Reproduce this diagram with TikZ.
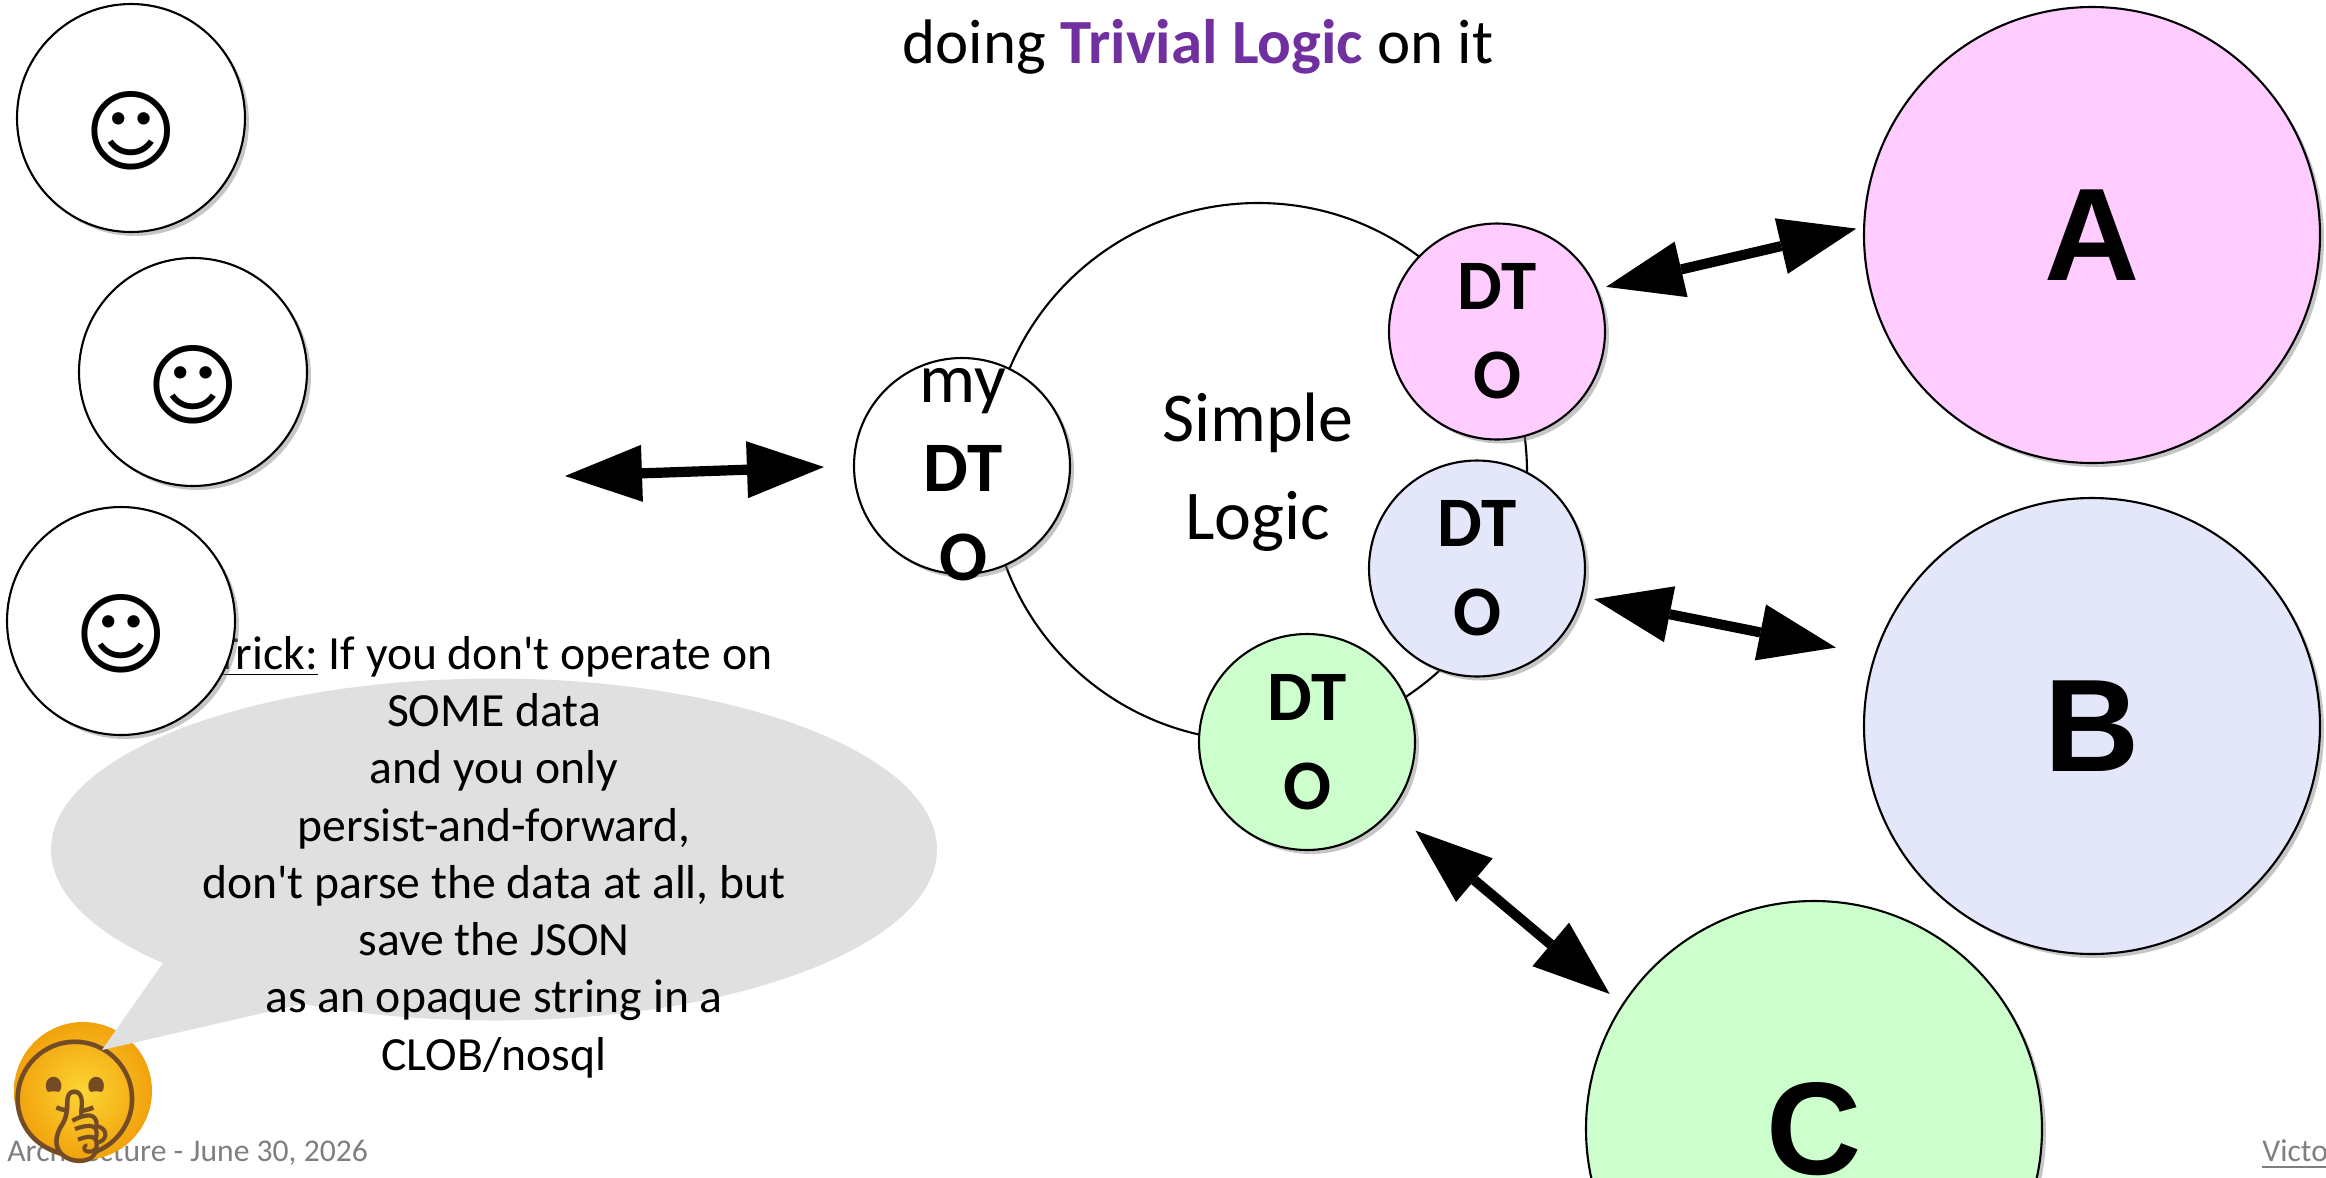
\documentclass[tikz,border=0pt]{standalone}
\usepackage{fontspec}
\setmainfont{Carlito}
\newfontfamily\arialfont{Liberation Sans}
\newfontfamily\symbolfont{DejaVu Sans}
\newfontfamily\emojifont{Noto Emoji}
\usepackage{xcolor}
\usetikzlibrary{arrows.meta,shadows}

\definecolor{pinkdto}{HTML}{FFCCFF}
\definecolor{bluedto}{HTML}{E4E6FA}
\definecolor{greendto}{HTML}{CCFFCC}
\definecolor{trivial}{HTML}{7030A0}
\definecolor{bubblegrey}{HTML}{E0E0E0}
\definecolor{footgrey}{HTML}{7F7F7F}
\definecolor{shushyellow}{HTML}{FCD535}
\definecolor{shushorange}{HTML}{F2A20C}

\newcommand{\smiley}{\raisebox{-0.13cm}[\height][\depth]{☺}}

\begin{document}
\begin{tikzpicture}[
        roundbox/.style={circle, draw, line width=0.6pt, fill=white, inner sep=0pt,
            drop shadow={shadow xshift=0.04cm, shadow yshift=-0.04cm, opacity=0.45}},
        userface/.style={roundbox, minimum size=2.28cm, font=\symbolfont\bfseries\fontsize{25.5}{25.5}\selectfont},
        dtolabel/.style={align=center, inner sep=0pt, font=\bfseries\fontsize{20.2}{25.3}\selectfont},
        dto/.style={roundbox, dtolabel, minimum size=2.16cm},
        sysbox/.style={roundbox, minimum size=4.56cm, font=\arialfont\bfseries\fontsize{37.5}{37.5}\selectfont},
        dblarrow/.style={line width=2.9pt,
            {Triangle[length=0.77cm,width=0.57cm,line width=0pt]}-{Triangle[length=0.77cm,width=0.57cm,line width=0pt]}}
    ]

        \useasboundingbox (0,0) rectangle (23.26,-11.77);

        \node[anchor=base west, inner sep=0, text=footgrey, font=\fontsize{9}{9}\selectfont] (footer) at (0.067,-11.617) {Architecture - June 30, 2026};
        \node[anchor=base west, inner sep=0, text=footgrey, font=\fontsize{9}{9}\selectfont] (author) at (22.617,-11.617) {\underline{Victo}};

        \shade[inner color=shushyellow, outer color=shushorange] (0.83,-10.91) circle [radius=0.69];
        \node[inner sep=0, text=brown!60!black, font=\emojifont\fontsize{34}{34}\selectfont] (shush) at (0.75,-11.015) {🤫};

        \fill[bubblegrey] (1.02,-10.50) -- (1.84,-9.33) -- (3.11,-10.02) -- cycle;
        \fill[bubblegrey] (4.94,-8.495) ellipse [x radius=4.43, y radius=1.71];

        \node[align=center, inner sep=0, font=\fontsize{13.55}{16.3}\selectfont] (trick) at (4.94,-8.57)
            {\underline{Trick:} If you don\textquotesingle t operate on\\SOME data\\and you only\\persist-and-forward,\\don\textquotesingle t parse the data at all, but\\save the JSON\\as an opaque string in a\\CLOB/nosql};

        \node[userface] (user1) at (1.31,-1.18) {\smiley};
        \node[userface] (user2) at (1.93,-3.72) {\smiley};
        \node[userface] (user3) at (1.21,-6.21) {\smiley};

        \node[anchor=base, inner sep=0, font=\fontsize{17.9}{17.9}\selectfont] (title) at (11.98,-0.63)
            {doing \textcolor{trivial}{\bfseries Trivial Logic} on it};

        \node[circle, draw, line width=0.6pt, fill=white, minimum size=5.38cm, inner sep=0, align=center,
            font=\fontsize{19.9}{27.9}\selectfont] (logic) at (12.58,-4.72) {Simple\\Logic};

        \node[dto] (mydto) at (9.62,-4.66) {};
        \node[dtolabel] (mylabel) at (9.63,-4.75) {{\mdseries\fontsize{20}{25.3}\selectfont my}\\DT\\O};
        \node[dto, fill=pinkdto] (dtoa) at (14.97,-3.315) {DT\\O};
        \node[dto, fill=bluedto] (dtob) at (14.77,-5.685) {DT\\O};
        \node[dto, fill=greendto] (dtoc) at (13.07,-7.42) {DT\\O};

        \node[sysbox, fill=pinkdto] (sysa) at (20.92,-2.35) {A};
        \node[sysbox, fill=bluedto] (sysb) at (20.92,-7.26) {B};
        \node[sysbox, fill=greendto] (sysc) at (18.14,-11.29) {C};

        \coordinate (crowd) at (5.65,-4.76);
        \draw[dblarrow, shorten >=0.29cm] (crowd) -- (mydto.west);
        \draw[dblarrow, shorten <=0.09cm, shorten >=0.07cm] (dtoa.23) -- (sysa.178);
        \draw[dblarrow, shorten <=0.12cm, shorten >=0.39cm] (dtob.-15) -- (sysb.162);
        \draw[dblarrow, shorten <=0.31cm, shorten >=0.16cm] (dtoc.-39) -- (sysc.147);

\end{tikzpicture}
\end{document}
